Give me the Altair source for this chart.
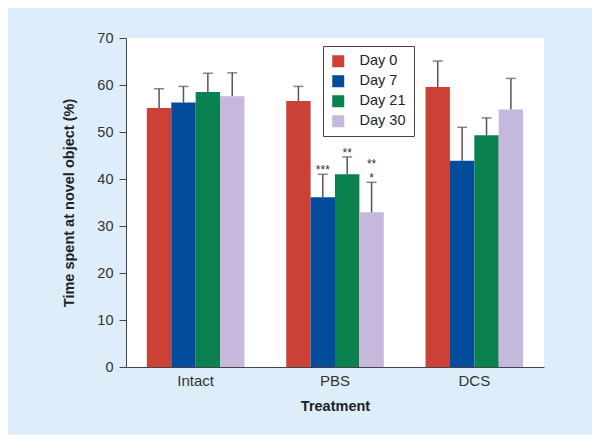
import altair as alt
import pandas as pd

groups = ["Intact", "PBS", "DCS"]
days = ["Day 0", "Day 7", "Day 21", "Day 30"]
means = {
    "Intact": [55.1, 56.3, 58.5, 57.6],
    "PBS": [56.6, 36.1, 41.0, 32.9],
    "DCS": [59.6, 43.9, 49.3, 54.8],
}
uppers = {
    "Intact": [59.2, 59.7, 62.5, 62.6],
    "PBS": [59.7, 41.0, 44.7, 39.3],
    "DCS": [65.1, 51.0, 53.0, 61.4],
}
colors = ["#cb4136", "#034c9c", "#0b8150", "#c6b7dc"]

# significance marks: first line sits on the error bar, second line above it
ann_group = ["PBS", "PBS", "PBS"]
ann_day = ["Day 7", "Day 21", "Day 30"]
ann_text = ["***", "**", "*"]
ann2_group = ["PBS"]
ann2_day = ["Day 30"]
ann2_text = ["**"]

rows = []
for g in groups:
    for i, d in enumerate(days):
        rows.append({"group": g, "day": d, "mean": means[g][i], "upper": uppers[g][i]})
df = pd.DataFrame(rows)

ann = pd.DataFrame({"group": ann_group, "day": ann_day, "label": ann_text})
ann = ann.merge(df[["group", "day", "upper"]], on=["group", "day"])
ann2 = pd.DataFrame({"group": ann2_group, "day": ann2_day, "label": ann2_text})
ann2 = ann2.merge(df[["group", "day", "upper"]], on=["group", "day"])

FONT = "Liberation Sans"

x = alt.X("group:N", sort=groups,
          scale=alt.Scale(paddingInner=0.3, paddingOuter=0.15),
          axis=alt.Axis(title="Treatment", labelAngle=0, ticks=False,
                        labelFontSize=15, labelPadding=6,
                        titleFontSize=14.5, titleFontWeight="bold",
                        titlePadding=11, domainColor="#444",
                        labelColor="#333", titleColor="#222",
                        labelFont=FONT, titleFont=FONT))
xo = alt.XOffset("day:N", sort=days, scale=alt.Scale(paddingInner=0, paddingOuter=0))

bars = alt.Chart(df).mark_bar().encode(
    x=x,
    xOffset=xo,
    y=alt.Y("mean:Q", scale=alt.Scale(domain=[0, 70], nice=False),
            axis=alt.Axis(title="Time spent at novel object (%)",
                          values=list(range(0, 71, 10)), grid=False,
                          tickSize=7, labelPadding=6, labelFontSize=14.5,
                          titleFontSize=14.5, titleFontWeight="bold",
                          titleX=-50, titleY=164.5, domainColor="#444",
                          tickColor="#444", labelColor="#333", titleColor="#222",
                          labelFont=FONT, titleFont=FONT)),
    color=alt.Color("day:N", sort=days,
                    scale=alt.Scale(domain=days, range=colors),
                    legend=alt.Legend(title=None, orient="none", legendX=197, legendY=8,
                                      direction="vertical",
                                      strokeColor="#444", fillColor="white",
                                      padding=8, symbolType="square", symbolSize=144,
                                      symbolStrokeWidth=0, symbolOpacity=1,
                                      labelFontSize=14.5, labelOffset=14, rowPadding=5,
                                      labelFont=FONT, labelColor="#222")),
)

err = alt.Chart(df).mark_rule(color="#555", strokeWidth=1.5).encode(
    x=alt.X("group:N", sort=groups), xOffset=xo,
    y="mean:Q", y2="upper:Q")

cap = alt.Chart(df).mark_tick(color="#555", thickness=1.5, size=10).encode(
    x=alt.X("group:N", sort=groups), xOffset=xo, y="upper:Q")

stars = alt.Chart(ann).mark_text(font=FONT, fontSize=12, baseline="bottom",
                                 dy=3, color="#333").encode(
    x=alt.X("group:N", sort=groups), xOffset=xo, y="upper:Q", text="label:N")

stars2 = alt.Chart(ann2).mark_text(font=FONT, fontSize=12, baseline="bottom",
                                   dy=-11, color="#333").encode(
    x=alt.X("group:N", sort=groups), xOffset=xo, y="upper:Q", text="label:N")

chart = alt.layer(bars, err, cap, stars, stars2).properties(
    width=418, height=329,
    background="#ddeefa",
    padding={"left": 118, "top": 30, "right": 48, "bottom": 68},
    autosize=alt.AutoSizeParams(type="none"),
).configure_view(stroke=None, fill="white")

chart.save("out.html", embed_options={"renderer": "svg", "actions": False})
